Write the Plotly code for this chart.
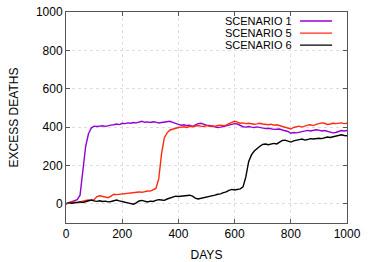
import plotly.graph_objects as go

days = list(range(0, 1001, 10))

scenario1 = [0, 5, 12, 18, 22, 45, 160, 300, 365, 395, 405, 403, 405, 407, 404, 409, 410, 412, 416, 413,
             420, 418, 422, 420, 424, 422, 428, 430, 425, 427, 424, 428, 426, 421, 424, 426, 428, 430, 425, 418,
             414, 410, 412, 408, 410, 404, 412, 418, 420, 414, 410, 408, 405, 404, 398, 400, 402, 406, 410, 414,
             418, 416, 408, 402, 400, 403, 400, 398, 401, 397, 396, 392, 394, 390, 388, 389, 390, 385, 382, 377,
             368, 372, 370, 374, 376, 380, 383, 380, 385, 386, 384, 380, 382, 378, 374, 370, 372, 378, 382, 380, 382]

scenario5 = [0, 6, 10, 8, 5, 10, 15, 18, 20, 18, 22, 38, 42, 40, 35, 32, 40, 50, 48, 50,
             50, 53, 52, 55, 58, 60, 62, 60, 65, 67, 66, 72, 80, 130, 260, 345, 370, 385, 390, 393,
             398, 400, 402, 398, 404, 402, 406, 408, 405, 403, 408, 404, 407, 404, 408, 410, 407, 410, 418, 422,
             430, 426, 420, 422, 418, 420, 418, 415, 417, 420, 416, 414, 412, 415, 410, 412, 408, 405, 400, 398,
             390, 398, 402, 405, 400, 406, 410, 412, 408, 414, 418, 422, 420, 414, 416, 420, 418, 420, 422, 418, 420]

scenario6 = [0, 5, 3, 6, 8, 10, 7, 12, 15, 20, 15, 13, 16, 12, 14, 10, 12, 18, 20, 15,
             10, 8, 5, 0, -2, 5, 15, 18, 12, 10, 14, 12, 18, 22, 20, 18, 25, 30, 38, 40,
             38, 40, 42, 44, 45, 40, 30, 25, 28, 32, 35, 40, 42, 45, 50, 52, 58, 62, 70, 75,
             72, 75, 78, 88, 140, 220, 255, 275, 290, 300, 310, 312, 308, 310, 315, 312, 322, 330, 332, 325,
             322, 328, 330, 335, 338, 332, 335, 340, 338, 340, 342, 340, 345, 348, 346, 350, 352, 355, 360, 356, 355]

names = ["SCENARIO 1", "SCENARIO 5", "SCENARIO 6"]
colors = ["#9400d3", "#ff2a10", "#000000"]
series = [scenario1, scenario5, scenario6]

x_ticks = [0, 200, 400, 600, 800, 1000]
y_ticks = [0, 200, 400, 600, 800, 1000]

fig = go.Figure()
for nm, col, ys in zip(names, colors, series):
    fig.add_trace(go.Scatter(x=days, y=ys, mode="lines", name=nm,
                             line=dict(color=col, width=1.4), showlegend=False))

font = dict(family="Liberation Sans, Arial, sans-serif", size=12, color="#000")
leg_font = dict(family="Liberation Sans, Arial, sans-serif", size=11, color="#000")

# gnuplot-style legend: text right-aligned, sample line to the right
leg_y = [0.957, 0.900, 0.843]
for nm, col, yy in zip(names, colors, leg_y):
    fig.add_annotation(xref="paper", yref="paper", x=0.808, y=yy, text=nm, showarrow=False,
                       xanchor="right", yanchor="middle", font=leg_font, borderpad=0)
    fig.add_shape(type="line", xref="paper", yref="paper", x0=0.833, x1=0.947, y0=yy, y1=yy,
                  line=dict(color=col, width=1.4))

axis_common = dict(showline=True, linecolor="#555", linewidth=1, mirror="ticks",
                   ticks="inside", ticklen=4, tickcolor="#555",
                   showgrid=True, gridcolor="#dedede", griddash="dot", gridwidth=1,
                   zeroline=False, tickfont=font, automargin=False)

fig.update_layout(
    width=374, height=262,
    margin=dict(l=66, r=27, t=12, b=39),
    paper_bgcolor="white", plot_bgcolor="white",
    font=font,
    xaxis=dict(range=[0, 1000], tickvals=x_ticks,
               title=dict(text="DAYS", font=font, standoff=14), **axis_common),
    yaxis=dict(range=[-100, 1000], tickvals=y_ticks,
               title=dict(text="EXCESS DEATHS", font=font, standoff=14), **axis_common),
)

fig.write_html("out.html", config={"displayModeBar": False},
               post_script="document.body.style.margin='0px';document.body.style.overflow='hidden';")
